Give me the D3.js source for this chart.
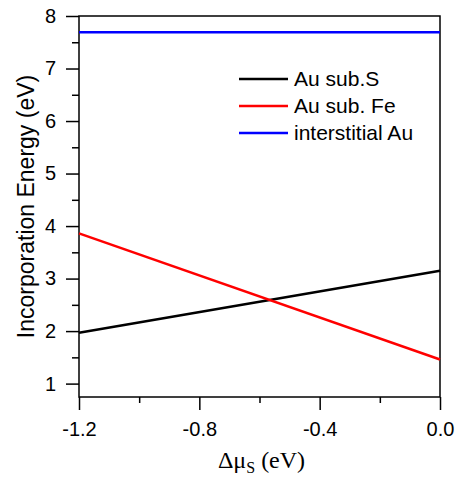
<!DOCTYPE html>
<html>
<head>
<meta charset="utf-8">
<script src="https://cdn.jsdelivr.net/npm/d3@7"></script>
<style>
  body { margin: 0; background: #fff; }
  svg text { font-family: "Liberation Sans", Arial, sans-serif; fill: #000; }
</style>
</head>
<body>
<div id="master"></div>
<script>
// values
let muS = [-1.2, 0.0]
let auSubS = [1.97, 3.15]
let auSubFe = [3.86, 1.46]
let interstitialAu = [7.69, 7.69]
let seriesNames = ["Au sub.S", "Au sub. Fe", "interstitial Au"]
let seriesColors = ["#000000", "#ff0000", "#0000ff"]
let xTicks = [-1.2, -0.8, -0.4, 0.0]
let xMinor = [-1.0, -0.6, -0.2]
let yTicks = [1, 2, 3, 4, 5, 6, 7, 8]
let yMinor = [1.5, 2.5, 3.5, 4.5, 5.5, 6.5, 7.5]

let w = 456, h = 487
let m = { left: 79, right: 16, top: 16, bottom: 90 }

let svg = d3.select("#master").append("svg").attr("width", w).attr("height", h)

let x = d3.scaleLinear().domain([-1.2, 0]).range([m.left, w - m.right])
let y = d3.scaleLinear().domain([0.745, 8]).range([h - m.bottom, m.top])

// frame
svg.append("rect")
  .attr("x", m.left).attr("y", m.top)
  .attr("width", w - m.left - m.right).attr("height", h - m.top - m.bottom)
  .attr("fill", "none").attr("stroke", "#000").attr("stroke-width", 1.5)

// x axis (plain hyphen for minus, like the original)
let xAxis = d3.axisBottom(x).tickValues(xTicks).tickSize(13)
  .tickFormat(d => d.toFixed(1).replace("\u2212", "-"))
let gx = svg.append("g").attr("transform", "translate(0," + (h - m.bottom) + ")").call(xAxis)
gx.select(".domain").remove()
gx.selectAll("text").style("font-size", "20px").attr("y", 39).attr("dy", 0)
svg.append("g").attr("transform", "translate(0," + (h - m.bottom) + ")")
  .call(d3.axisBottom(x).tickValues(xMinor).tickSize(6).tickFormat(""))
  .select(".domain").remove()

// y axis
let yAxis = d3.axisLeft(y).tickValues(yTicks).tickSize(13).tickPadding(10)
let gy = svg.append("g").attr("transform", "translate(" + m.left + ",0)").call(yAxis)
gy.select(".domain").remove()
gy.selectAll("text").style("font-size", "20px")
svg.append("g").attr("transform", "translate(" + m.left + ",0)")
  .call(d3.axisLeft(y).tickValues(yMinor).tickSize(7).tickFormat(""))
  .select(".domain").remove()

svg.selectAll(".tick line").attr("stroke", "#000").attr("stroke-width", 1.5)

// series
let line = d3.line().x(d => x(d[0])).y(d => y(d[1]))
let series = [auSubS, auSubFe, interstitialAu]
series.forEach((s, i) => {
  svg.append("path")
    .datum(muS.map((v, j) => [v, s[j]]))
    .attr("d", line)
    .attr("fill", "none")
    .attr("stroke", seriesColors[i])
    .attr("stroke-width", 2.5)
})

// legend
let legend = svg.append("g")
seriesNames.forEach((n, i) => {
  let ly = 79 + i * 27
  legend.append("line").attr("x1", 239).attr("x2", 288).attr("y1", ly).attr("y2", ly)
    .attr("stroke", seriesColors[i]).attr("stroke-width", 2.5)
  legend.append("text").attr("x", 294).attr("y", ly).attr("dy", "0.35em")
    .style("font-size", "21px").text(n)
})

// axis titles
svg.append("text")
  .attr("transform", "translate(26," + ((m.top + h - m.bottom) / 2) + ") rotate(-90)")
  .attr("text-anchor", "middle").attr("dy", "0.35em")
  .style("font-size", "23px").text("Incorporation Energy (eV)")

let xl = svg.append("text")
  .attr("x", (m.left + w - m.right) / 2 + 2).attr("y", 468)
  .attr("text-anchor", "middle")
  .style("font-family", "'Liberation Serif', 'Times New Roman', serif").style("font-size", "24px")
xl.append("tspan").text("\u0394\u03bc")
xl.append("tspan").attr("dy", 5).style("font-size", "16px").text("S")
xl.append("tspan").attr("dy", -5).text(" (eV)")
</script>
</body>
</html>
